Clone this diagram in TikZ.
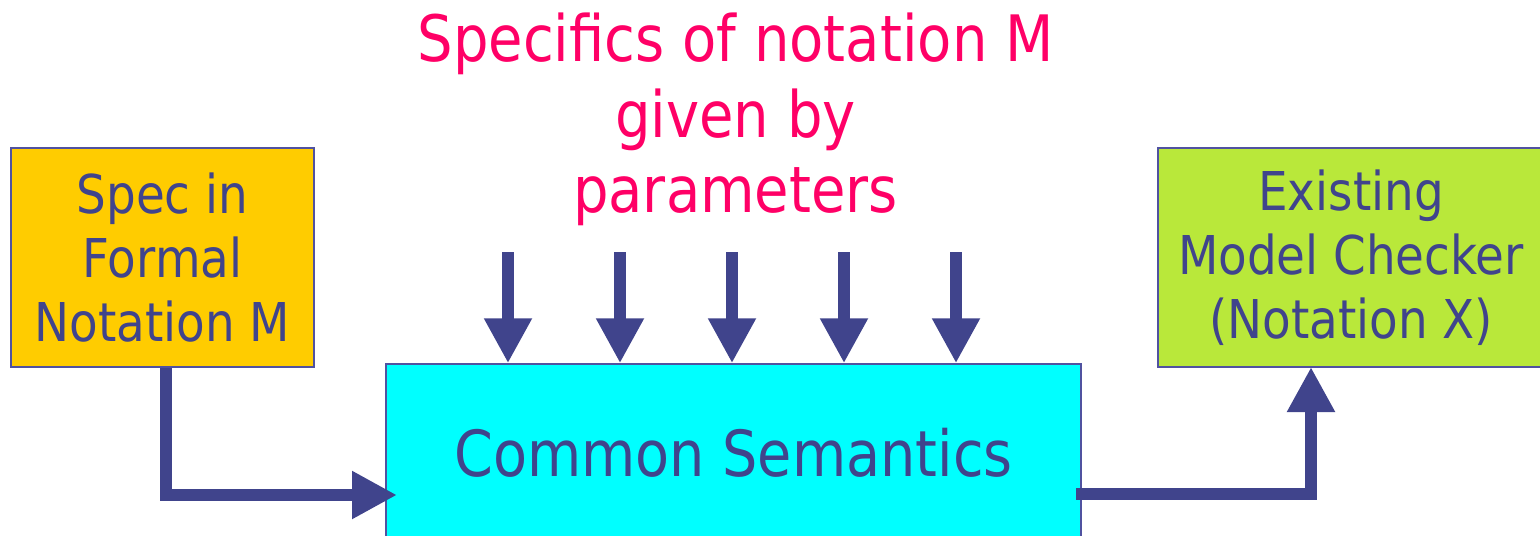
\documentclass[tikz,border=0pt]{standalone}
\usepackage{fontspec}
\setmainfont{DejaVu Sans}[FakeStretch=0.875]
\usetikzlibrary{arrows.meta, positioning, calc}

\definecolor{ink}{RGB}{64,68,140}
\definecolor{boxline}{RGB}{80,82,160}
\definecolor{gold}{RGB}{255,204,0}
\definecolor{aqua}{RGB}{0,255,255}
\definecolor{lime}{RGB}{185,232,58}
\definecolor{hot}{RGB}{255,0,102}

\begin{document}
\begin{tikzpicture}[
    x=0.5pt, y=-0.5pt,
    block/.style={
        rectangle, draw=boxline, line width=0.75pt,
        text=ink, align=center, inner sep=0pt,
        font=\fontsize{26.75}{32}\selectfont
    },
    flow/.style={
        draw=ink, line width=6pt,
        -{Triangle[length=22.5pt, width=22.5pt]}
    }
]
\useasboundingbox (0,0) rectangle (1540,535);

% Boxes
\node[block, fill=gold, minimum width=151.5pt, minimum height=109.5pt]
    (spec) at (162.5,257.5) {Spec in\\Formal\\Notation M};
\node[block, fill=aqua, minimum width=347.5pt, minimum height=89pt,
      font=\fontsize{31.8}{38}\selectfont]
    (sem) at (733.5,453) {Common Semantics};
\node[block, fill=lime, minimum width=193pt, minimum height=109.5pt]
    (check) at (1351,257.5) {Existing\\Model Checker\\(Notation X)};

% Parameters
\node[text=hot, align=center, inner sep=0pt, anchor=base,
      font=\fontsize{32}{37.5}\selectfont]
    (param) at (735.5,212) {Specifics of notation M\\given by\\parameters};

% Arrows
\coordinate (inA) at (397,495);
\coordinate (outA) at (1076,494);
\coordinate (inB) at (1311,367);

\draw[flow] (spec.south -| 166,0) |- (inA);
\draw[flow] (outA) -| (inB);

\foreach \i in {0,...,4}{
    \coordinate (p\i) at (508+112*\i,252);
    \draw[flow, line cap=butt] (p\i) -- (p\i |- sem.north);
}

\end{tikzpicture}
\end{document}
